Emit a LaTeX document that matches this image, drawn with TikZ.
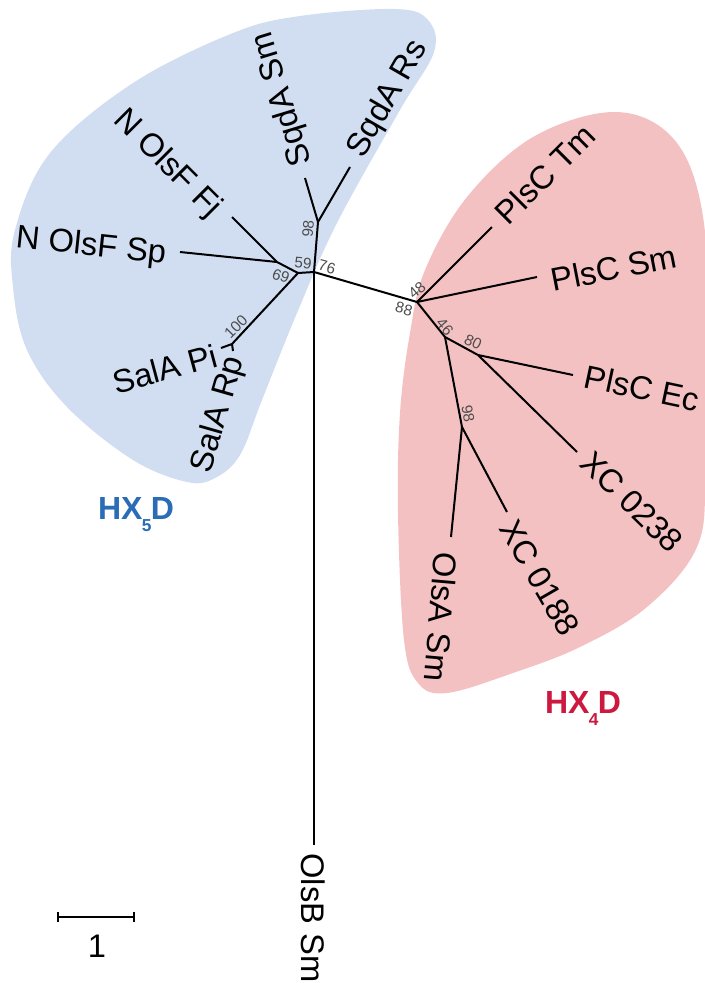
\documentclass[tikz,border=0pt]{standalone}
\usepackage{fontspec}
\setmainfont{Liberation Sans}
\usetikzlibrary{arrows.meta}
\definecolor{cladeblue}{RGB}{209,222,242}
\definecolor{cladepink}{RGB}{244,193,195}
\definecolor{hxblue}{RGB}{43,108,182}
\definecolor{hxred}{RGB}{205,24,64}
\begin{document}
\begin{tikzpicture}[x=0.75pt,y=-0.75pt,
  br/.style={line width=1.5pt},
  lab/.style={font=\fontsize{24.5}{28}\selectfont, inner sep=0pt},
  bs/.style={font=\fontsize{11.5}{13}\selectfont, text=black!70, inner sep=0pt},
  hx/.style={font=\fontsize{24}{28}\bfseries\selectfont, inner sep=0pt}]
\useasboundingbox (0,0) rectangle (705,983);
% clades
\fill[cladeblue] plot[smooth cycle, tension=0.6] coordinates {
  (300,16) (395,9) (428,20) (434,52) (400,110) (337,223) (297,313) (262,400)
  (240,455) (215,478) (187,482) (133,460) (67,407) (27,350) (13,287) (15,230)
  (50,153) (133,83) (233,33)};
\fill[cladepink] plot[smooth cycle, tension=0.6] coordinates {
  (613,112) (670,135) (700,200) (710,320) (706,470) (697,547) (647,607)
  (580,647) (513,673) (447,693) (418,683) (404,640) (398,513) (400,413)
  (410,333) (425,270) (467,197) (533,137)};
% internal nodes and tips
\coordinate (R) at (314,272);
\coordinate (A) at (298,273);
\coordinate (B) at (277,262);
\coordinate (tSp) at (180,252);
\coordinate (tFj) at (232,217);
\coordinate (S) at (232,344);
\coordinate (tPi) at (221,348);
\coordinate (tRp) at (233,351);
\coordinate (C) at (318,222);
\coordinate (tSqSm) at (305,178);
\coordinate (tSqRs) at (350,167);
\coordinate (D) at (417,302);
\coordinate (tTm) at (492,227);
\coordinate (tPSm) at (537,277);
\coordinate (E) at (445,337);
\coordinate (F) at (478,355);
\coordinate (tEc) at (573,375);
\coordinate (t238) at (577,452);
\coordinate (G) at (462,427);
\coordinate (tOlsA) at (451,537);
\coordinate (t188) at (507,512);
\coordinate (tOlsB) at (314,845);
% branches
\draw[br] (R) -- (A);
\draw[br] (A) -- (B);
\draw[br] (B) -- (tSp);
\draw[br] (B) -- (tFj);
\draw[br] (A) -- (S);
\draw[br] (S) -- (tPi);
\draw[br] (S) -- (tRp);
\draw[br] (R) -- (C);
\draw[br] (C) -- (tSqSm);
\draw[br] (C) -- (tSqRs);
\draw[br] (R) -- (D);
\draw[br] (D) -- (tTm);
\draw[br] (D) -- (tPSm);
\draw[br] (D) -- (E);
\draw[br] (E) -- (F);
\draw[br] (F) -- (tEc);
\draw[br] (F) -- (t238);
\draw[br] (E) -- (G);
\draw[br] (G) -- (tOlsA);
\draw[br] (G) -- (t188);
\draw[br] (R) -- (tOlsB);
% leaf labels
\node[lab, rotate=-6] (lSp) at (91,247) {N OlsF Sp};
\node[lab, rotate=-45] (lFj) at (167,164) {N OlsF Fj};
\node[lab, rotate=107] (lSqSm) at (283,99) {SqdA Sm};
\node[lab, rotate=60] (lSqRs) at (388,99) {SqdA Rs};
\node[lab, rotate=15] (lPi) at (165,369) {SalA Pi};
\node[lab, rotate=74] (lRp) at (219,415) {SalA Rp};
\node[lab, rotate=45] (lTm) at (545,174) {PlsC Tm};
\node[lab, rotate=11] (lPSm) at (614,268) {PlsC Sm};
\node[lab, rotate=-12] (lEc) at (642,388) {PlsC Ec};
\node[lab, rotate=-44.5] (l238) at (632,502) {XC 0238};
\node[lab, rotate=-60] (l188) at (540,578) {XC 0188};
\node[lab, rotate=-95] (lOlsA) at (441,617) {OlsA Sm};
\node[lab, rotate=-90] (lOlsB) at (313,918) {OlsB Sm};
% bootstrap values
\node[bs, rotate=85] (b98a) at (308,229) {98};
\node[bs, rotate=-5] (b59) at (303,263) {59};
\node[bs, rotate=-15] (b76) at (327,267) {76};
\node[bs, rotate=-20] (b69) at (281,276) {69};
\node[bs, rotate=45] (b100) at (236,327) {100};
\node[bs, rotate=40] (b48) at (417,290) {48};
\node[bs, rotate=-15] (b88) at (404,309) {88};
\node[bs, rotate=-50] (b46) at (445,327) {46};
\node[bs, rotate=-25] (b80) at (473,342) {80};
\node[bs, rotate=-80] (b98b) at (468,414) {98};
% clade names
\node[hx, text=hxblue] (hx5) at (136,515) {HX\kern-0.5pt\raisebox{-9pt}{\fontsize{13}{14}\selectfont 5}\kern-0.5pt D};
\node[hx, text=hxred] (hx4) at (583,708) {HX\kern-0.5pt\raisebox{-9pt}{\fontsize{13}{14}\selectfont 4}\kern-0.5pt D};
% scale bar
\coordinate (sb1) at (57,917);
\coordinate (sb2) at (135,917);
\draw[line width=1.5pt, {Bar[width=7pt,line width=1.2pt]}-{Bar[width=7pt,line width=1.2pt]}] (sb1) -- (sb2);
\node[font=\fontsize{24.5}{28}\selectfont, inner sep=0pt] (sbl) at (97,946) {1};
\end{tikzpicture}
\end{document}
